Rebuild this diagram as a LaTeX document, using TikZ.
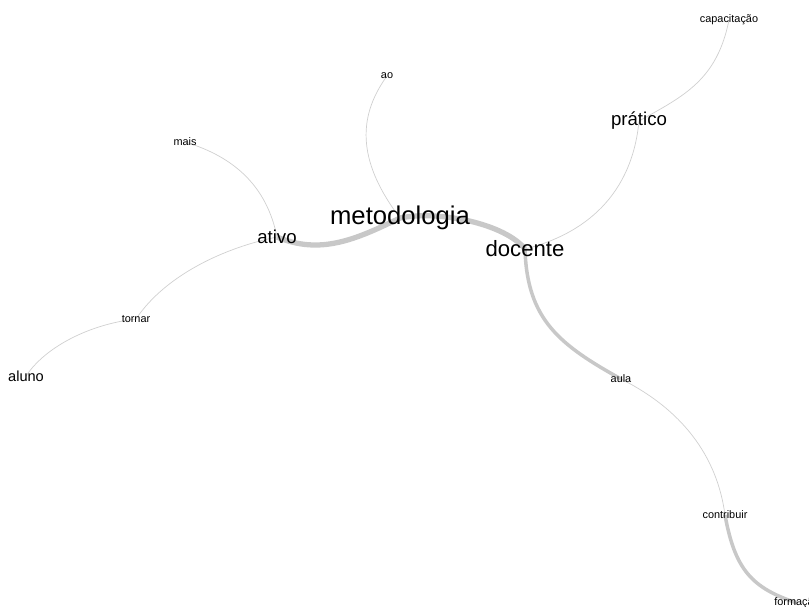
\documentclass[tikz,border=0pt]{standalone}
\usepackage{fontspec}
\setmainfont{Liberation Sans}
\usetikzlibrary{backgrounds}
\definecolor{linkgray}{HTML}{C8C8C8}
\definecolor{thingray}{HTML}{D0D0D0}
\tikzset{
  word/.style={inner sep=0pt, text=black},
  wbig/.style={word, font=\fontsize{14.6}{16}\selectfont},
  wlarge/.style={word, font=\fontsize{12.6}{14}\selectfont},
  wmid/.style={word, font=\fontsize{10.6}{12}\selectfont},
  wlow/.style={word, font=\fontsize{8.3}{10}\selectfont},
  wsmall/.style={word, font=\fontsize{6.2}{7}\selectfont},
  strong/.style={draw=linkgray, line width=3pt},
  medium/.style={draw=linkgray, line width=2pt},
  weak/.style={draw=thingray, line width=0.4pt}
}

\begin{document}
\begin{tikzpicture}[x=0.02cm, y=-0.02cm]
\useasboundingbox (0,0) rectangle (809,606);
\node[wbig] (metodologia) at (400,218) {metodologia};
\node[wlarge] (docente) at (525,249) {docente};
\node[wmid] (ativo) at (277,237) {ativo};
\node[wmid] (pratico) at (639,121) {prático};
\node[wlow] (aluno) at (26,376) {aluno};
\node[wsmall] (capacitacao) at (729,20) {capacitação};
\node[wsmall] (ao) at (387,76) {ao};
\node[wsmall] (mais) at (185,142) {mais};
\node[wsmall] (tornar) at (136,319) {tornar};
\node[wsmall] (aula) at (621,379) {aula};
\node[wsmall] (contribuir) at (725,515) {contribuir};
\node[wsmall] (formacao) at (797,603) {formação};

\begin{pgfonlayer}{background}
\draw[strong] (ativo.center) .. controls +(43,18) and +(-45,22) .. (metodologia.center);
\draw[strong] (metodologia.center) .. controls +(40,-8) and +(-20,-25) .. (docente.center);
\draw[medium] (docente.center) .. controls +(2,71) and +(-61,-34) .. (aula.center);
\draw[weak] (aula.center) .. controls +(60,30) and +(-8,-60) .. (contribuir.center);
\draw[medium] (contribuir.center) .. controls +(10,55) and +(-45,-15) .. (formacao.center);
\draw[weak] (ao.center) .. controls +(-32,44) and +(-40,-53) .. (metodologia.center);
\draw[weak] (mais.center) .. controls +(50,15) and +(-10,-50) .. (ativo.center);
\draw[weak] (ativo.center) .. controls +(-50,10) and +(30,-45) .. (tornar.center);
\draw[weak] (tornar.center) .. controls +(-45,5) and +(20,-30) .. (aluno.center);
\draw[weak] (docente.center) .. controls +(60,-15) and +(-7,74) .. (pratico.center);
\draw[weak] (pratico.center) .. controls +(45,-25) and +(-12,60) .. (capacitacao.center);
\end{pgfonlayer}
\end{tikzpicture}
\end{document}
